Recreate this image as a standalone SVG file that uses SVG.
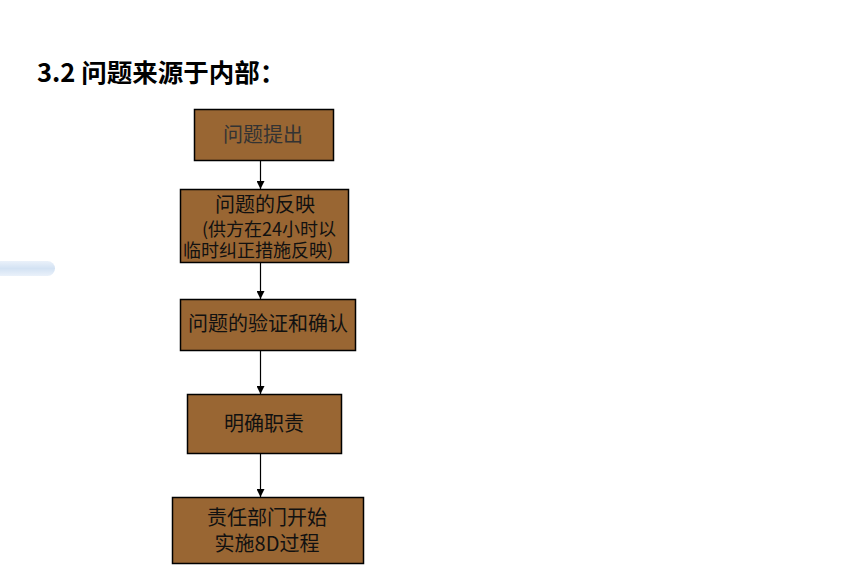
<svg xmlns="http://www.w3.org/2000/svg" width="854" height="585" viewBox="0 0 854 585">
<defs>
<style>
.box{fill:#996633;stroke:#000;stroke-width:1.5}
.t{font-family:"Noto Sans CJK SC","Noto Sans",sans-serif;font-size:20px;fill:#111;text-anchor:middle}
.s{font-size:18px;text-anchor:start}
.c{stroke:#000;stroke-width:1.2;fill:none;marker-end:url(#ah)}
</style>
<marker id="ah" viewBox="0 0 10 10" refX="10" refY="5" markerWidth="8" markerHeight="8" markerUnits="userSpaceOnUse" orient="auto">
<path d="M0,0 L10,5 L0,10 z" fill="#000"/>
</marker>
<linearGradient id="bar" x1="0" y1="0" x2="0" y2="1">
<stop offset="0" stop-color="#eaf1fa"/>
<stop offset="0.5" stop-color="#d3e2f3"/>
<stop offset="1" stop-color="#eaf1fa"/>
</linearGradient>
</defs>
<rect width="854" height="585" fill="#fff"/>
<rect x="-10" y="261" width="65" height="15" rx="7.5" fill="url(#bar)"/>
<text x="37" y="82" font-family="'Noto Sans CJK SC','Noto Sans',sans-serif" font-size="25.5" font-weight="bold" fill="#000">3.2 问题来源于内部：</text>
<g id="connectors">
<line class="c" x1="260.5" y1="160" x2="260.5" y2="189"/>
<line class="c" x1="260.5" y1="262" x2="260.5" y2="299"/>
<line class="c" x1="260.5" y1="350" x2="260.5" y2="394"/>
<line class="c" x1="260.5" y1="453" x2="260.5" y2="497"/>
</g>
<g id="n1">
<rect class="box" x="194.5" y="109.5" width="139" height="51"/>
<text class="t" x="263" y="142" style="fill:#333">问题提出</text>
</g>
<g id="n2">
<rect class="box" x="180.5" y="189.5" width="168" height="73"/>
<text class="t" x="265" y="212">问题的反映</text>
<text class="t s" x="202" y="236">(供方在24小时以</text>
<text class="t s" x="183" y="257">临时纠正措施反映)</text>
</g>
<g id="n3">
<rect class="box" x="180.5" y="299.5" width="175" height="51"/>
<text class="t" x="268" y="331">问题的验证和确认</text>
</g>
<g id="n4">
<rect class="box" x="187.5" y="394.5" width="154" height="59"/>
<text class="t" x="264" y="431">明确职责</text>
</g>
<g id="n5">
<rect class="box" x="172.5" y="497.5" width="191" height="66"/>
<text class="t" x="267" y="525">责任部门开始</text>
<text class="t" x="267" y="551">实施8D过程</text>
</g>
</svg>
